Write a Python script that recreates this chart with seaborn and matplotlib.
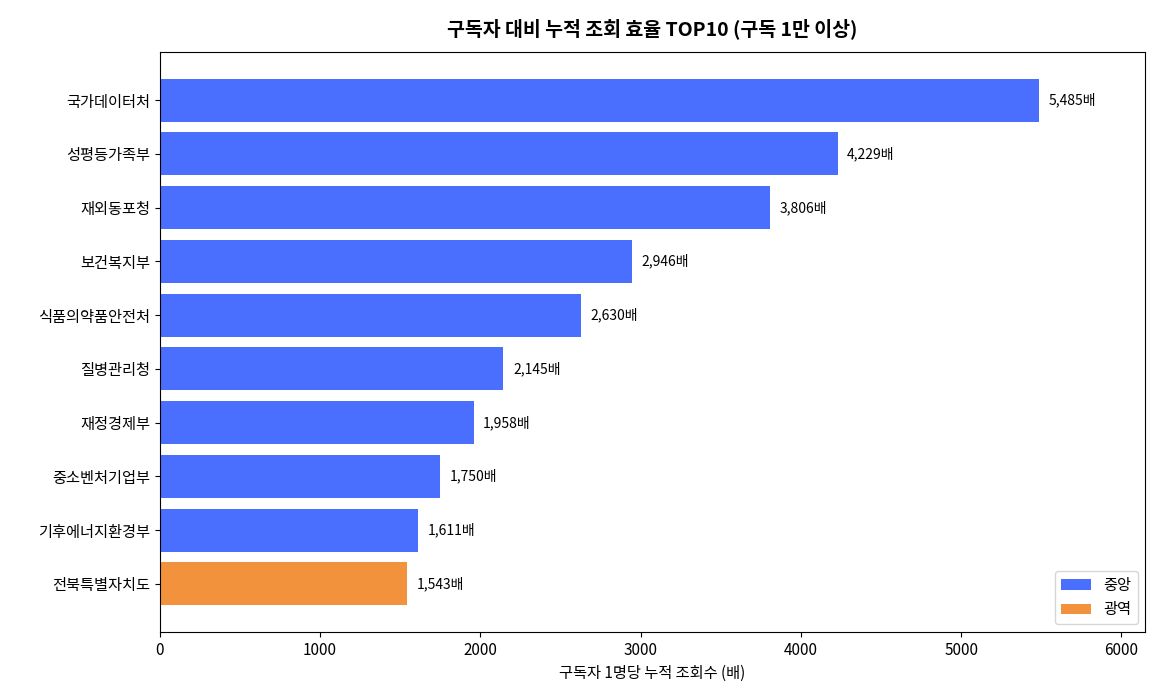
import matplotlib.pyplot as plt
import seaborn as sns
import pandas as pd

plt.rcParams['font.family'] = ['Noto Sans CJK KR', 'DejaVu Sans']

names = ["국가데이터처", "성평등가족부", "재외동포청", "보건복지부", "식품의약품안전처",
         "질병관리청", "재정경제부", "중소벤처기업부", "기후에너지환경부", "전북특별자치도"]
ratios = [5485, 4229, 3806, 2946, 2630, 2145, 1958, 1750, 1611, 1543]
kinds = ["중앙"] * 9 + ["광역"]

df = pd.DataFrame({"name": names, "ratio": ratios, "kind": kinds})

plt.figure(figsize=(11.57, 7), dpi=100)
ax = sns.barplot(data=df, x="ratio", y="name", hue="kind", dodge=False,
                 palette={"중앙": "#4A6FFF", "광역": "#F2923D"}, width=0.8, saturation=1)
for i, v in enumerate(ratios):
    plt.text(v + 60, i, f"{v:,}배", va="center", fontsize=10)  # 값 라벨
plt.xlim(0, 6150)
plt.ylim(9.9, -0.9)
plt.title("구독자 대비 누적 조회 효율 TOP10 (구독 1만 이상)", fontsize=14, fontweight="bold", pad=12)
plt.xlabel("구독자 1명당 누적 조회수 (배)", fontsize=11)
plt.ylabel("")
plt.xticks(fontsize=11)
plt.yticks(fontsize=11)
plt.legend(loc="lower right", fontsize=11)
plt.subplots_adjust(left=0.138, right=0.99, top=0.926, bottom=0.097)
plt.savefig("out.png")
